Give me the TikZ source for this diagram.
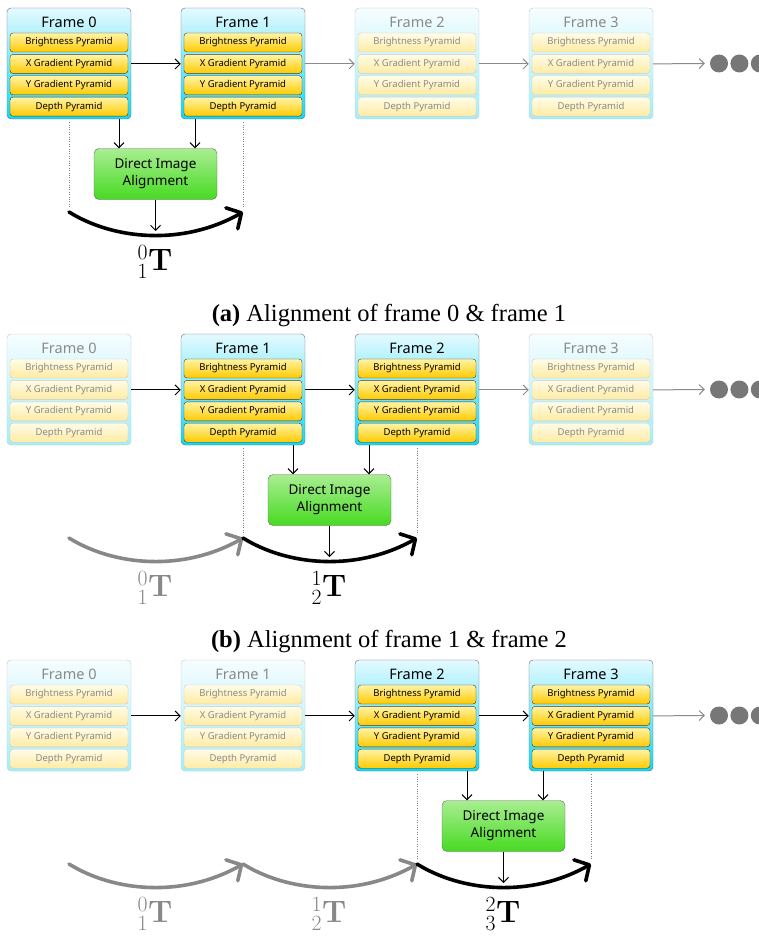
\RequirePackage{fix-cm}
\documentclass[tikz,border=0pt]{standalone}
\usepackage[no-math]{fontspec}
\setmainfont{Liberation Serif}
\newfontfamily\uifont{Noto Sans}
\usetikzlibrary{positioning, arrows.meta, calc}
\definecolor{ftop1}{HTML}{E4FAFF}
\definecolor{fbot1}{HTML}{10D8F6}
\definecolor{fline1}{HTML}{6A6A6A}
\definecolor{ftop0}{HTML}{F6FDFF}
\definecolor{fbot0}{HTML}{A2EFFA}
\definecolor{fline0}{HTML}{C4C4C4}
\definecolor{ltop1}{HTML}{FFF4A6}
\definecolor{lbot1}{HTML}{FFCA00}
\definecolor{lline1}{HTML}{3A3A3A}
\definecolor{ltop0}{HTML}{FFFCE8}
\definecolor{lbot0}{HTML}{FFEBA2}
\definecolor{lline0}{HTML}{CACACA}
\definecolor{txt1}{HTML}{000000}
\definecolor{txt0}{HTML}{8A8A8A}
\definecolor{arr1}{HTML}{000000}
\definecolor{arr0}{HTML}{8A8A8A}
\definecolor{mot1}{HTML}{000000}
\definecolor{mot0}{HTML}{888888}
\definecolor{diatop}{HTML}{A8EE92}
\definecolor{diabot}{HTML}{48DA22}
\definecolor{dotgray}{HTML}{777777}
\tikzset{>={Straight Barb[length=5pt, width=10pt]},
frame/.style={draw=fline#1, rounded corners=4pt, minimum width=124pt, minimum height=111pt, top color=ftop#1, bottom color=fbot#1},
ftitle/.style={text=txt#1, font=\uifont\fontsize{14.5}{16}\selectfont, inner sep=0pt},
layer/.style={draw=lline#1, text=txt#1, rounded corners=3pt, minimum width=118pt, minimum height=19pt, inner sep=0pt, top color=ltop#1, bottom color=lbot#1, font=\uifont\fontsize{9.5}{10}\selectfont},
dia/.style={draw=black!60, rounded corners=5pt, minimum width=123pt, minimum height=51pt, align=center, top color=diatop, bottom color=diabot, font=\uifont\fontsize{13.5}{17}\selectfont},
dotnode/.style={circle, fill=dotgray, minimum size=18pt, inner sep=0pt},
flow/.style={line width=1pt, ->},
guide/.style={dotted, gray, shorten <=3pt, shorten >=5pt},
motion/.style={line width=3.6pt, line cap=round, -{Straight Barb[round, length=11pt, width=24pt]}},
tlabel/.style={font=\fontsize{31}{36}\selectfont, inner sep=0pt},
caption/.style={font=\fontsize{24.5}{28}\selectfont},
}

\begin{document}
\begin{tikzpicture}[x=1pt, y=-1pt]
\useasboundingbox (0,0) rectangle (759,939);
\foreach \p [evaluate=\p as \q using int(\p+1)] in {0,1,2} {
    % frames
    \foreach \f [evaluate=\f as \a using {int((\f>\p-1)*(\f<\p+2))}] in {0,...,3} {
        \node[frame=\a] (f\p\f) at (69+174*\f, 63.5+326*\p) {};
        \node[ftitle=\a] (t\p\f) at ($(f\p\f.center)+(0,-41.5)$) {Frame \f};
        \node[layer=\a] (b\p\f) at ($(f\p\f.center)+(0,-21)$) {Brightness Pyramid};
        \node[layer=\a, below=2pt of b\p\f] (x\p\f) {X Gradient Pyramid};
        \node[layer=\a, below=2pt of x\p\f] (y\p\f) {Y Gradient Pyramid};
        \node[layer=\a, below=2pt of y\p\f] (d\p\f) {Depth Pyramid};
    }
    \foreach \f [evaluate=\f as \g using int(\f+1), evaluate=\f as \c using {int(\f<\p+1)}] in {0,1,2}
        \draw[flow, draw=arr\c] (f\p\f.east |- x\p\f) -- (f\p\g.west |- x\p\g);

    % more frames
    \node[dotnode] (o\p0) at (719, 63.5+326*\p) {};
    \node[dotnode, right=2pt of o\p0] (o\p1) {};
    \node[dotnode, right=2pt of o\p1] (o\p2) {};
    \draw[flow, draw=arr0] (f\p3.east |- x\p3) -- ([xshift=-5pt]o\p0.west);

    % alignment
    \node[dia] (dia\p) at (155.5+174*\p, 174+326*\p) {Direct Image\\Alignment};
    \coordinate (i\p) at ([xshift=50pt]f\p\p.south);
    \coordinate (j\p) at ([xshift=-48pt]f\p\q.south);
    \draw[flow] (i\p) -- (i\p |- dia\p.north);
    \draw[flow] (j\p) -- (j\p |- dia\p.north);
    \coordinate (h\p) at (155.5+174*\p, 231+326*\p);
    \draw[flow] (dia\p) -- (h\p);

    % motion
    \foreach \k in {0,...,3}
        \coordinate (m\p\k) at (69+174*\k, 212+326*\p);
    \draw[guide] (f\p\p.south) -- (m\p\p);
    \draw[guide] (f\p\q.south) -- (m\p\q);
    \foreach \k [evaluate=\k as \g using int(\k+1), evaluate=\k as \c using {int(\k==\p)}] in {0,...,\p} {
        \draw[motion, draw=mot\c] (m\p\k) .. controls ($(m\p\k)+(45,28)$) and ($(m\p\g)+(-60,34)$) .. (m\p\g);
        \node[tlabel, text=mot\c] (T\p\k) at (155+174*\k, 262+326*\p) {${}^{\k}_{\g}\mathbf{T}$};
    }

    \ifnum\p<2
        \node[caption] (cap\p) at (389, 316+326*\p) {\textbf{(\ifcase\p a\or b\fi)} Alignment of frame \p{} \& frame \q};
    \fi
}
\end{tikzpicture}
\end{document}
